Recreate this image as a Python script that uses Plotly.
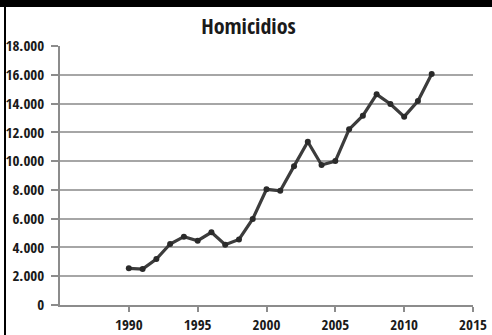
import plotly.graph_objects as go

years = [1990, 1991, 1992, 1993, 1994, 1995, 1996, 1997, 1998, 1999, 2000, 2001,
         2002, 2003, 2004, 2005, 2006, 2007, 2008, 2009, 2010, 2011, 2012]
homicidios = [2550, 2500, 3200, 4240, 4750, 4470, 5050, 4190, 4560, 5980, 8040, 7940,
              9650, 11350, 9730, 10000, 12210, 13160, 14640, 13970, 13090, 14180, 16050]
x_ticks = [1990, 1995, 2000, 2005, 2010, 2015]
y_ticks = [0, 2000, 4000, 6000, 8000, 10000, 12000, 14000, 16000, 18000]
y_labels = ["0", "2.000", "4.000", "6.000", "8.000", "10.000", "12.000", "14.000", "16.000", "18.000"]
title = "Homicidios"

FONT = "Open Sans Condensed, Roboto Condensed, sans-serif"

fig = go.Figure()
fig.add_trace(go.Scatter(
    x=years, y=homicidios, mode="lines+markers",
    line=dict(color="#3c3c3c", width=3.2),
    marker=dict(color="#2a2a2a", size=6),
    showlegend=False,
))

W, H = 492, 335
L, R, T, B = 60, 19, 46, 30
pw, ph = W - L - R, H - T - B

def px(xp):
    return (xp - L) / pw

def py(yp):
    return (H - B - yp) / ph

shapes = [
    dict(type="rect", xref="paper", yref="paper", x0=px(-2), x1=px(W + 2), y0=py(7), y1=py(-2),
         fillcolor="black", line=dict(width=0), layer="above"),
    dict(type="rect", xref="paper", yref="paper", x0=px(4), x1=px(6), y0=py(H + 2), y1=py(0),
         fillcolor="black", line=dict(width=0), layer="above"),
]

fig.update_layout(
    width=W, height=H,
    margin=dict(l=L, r=R, t=T, b=B, pad=0, autoexpand=False),
    paper_bgcolor="white", plot_bgcolor="white",
    title=dict(text=title, x=0.505, xref="container", xanchor="center",
               y=1 - 26 / H, yref="container", yanchor="middle",
               font=dict(family=FONT, size=22, color="#1a1a1a")),
    xaxis=dict(range=[1985, 2015], tickvals=x_ticks, ticktext=[str(v) for v in x_ticks],
               automargin=False,
               showgrid=False, zeroline=False, showline=True, linecolor="#8c8c8c", linewidth=1.5,
               ticks="outside", ticklen=5, tickcolor="#8c8c8c", tickwidth=1.5,
               ticklabelstandoff=0,
               tickfont=dict(family=FONT, size=15, color="#1a1a1a")),
    yaxis=dict(range=[0, 18000], tickvals=y_ticks, ticktext=y_labels,
               automargin=False,
               showgrid=True, gridcolor="#a6a6a6", gridwidth=1.5, zeroline=False,
               showline=True, linecolor="#8c8c8c", linewidth=1.5,
               ticks="outside", ticklen=7, tickcolor="#8c8c8c", tickwidth=1.5,
               ticklabelstandoff=4,
               tickfont=dict(family=FONT, size=15, color="#1a1a1a")),
    shapes=shapes,
)

fig.write_html("out.html")
